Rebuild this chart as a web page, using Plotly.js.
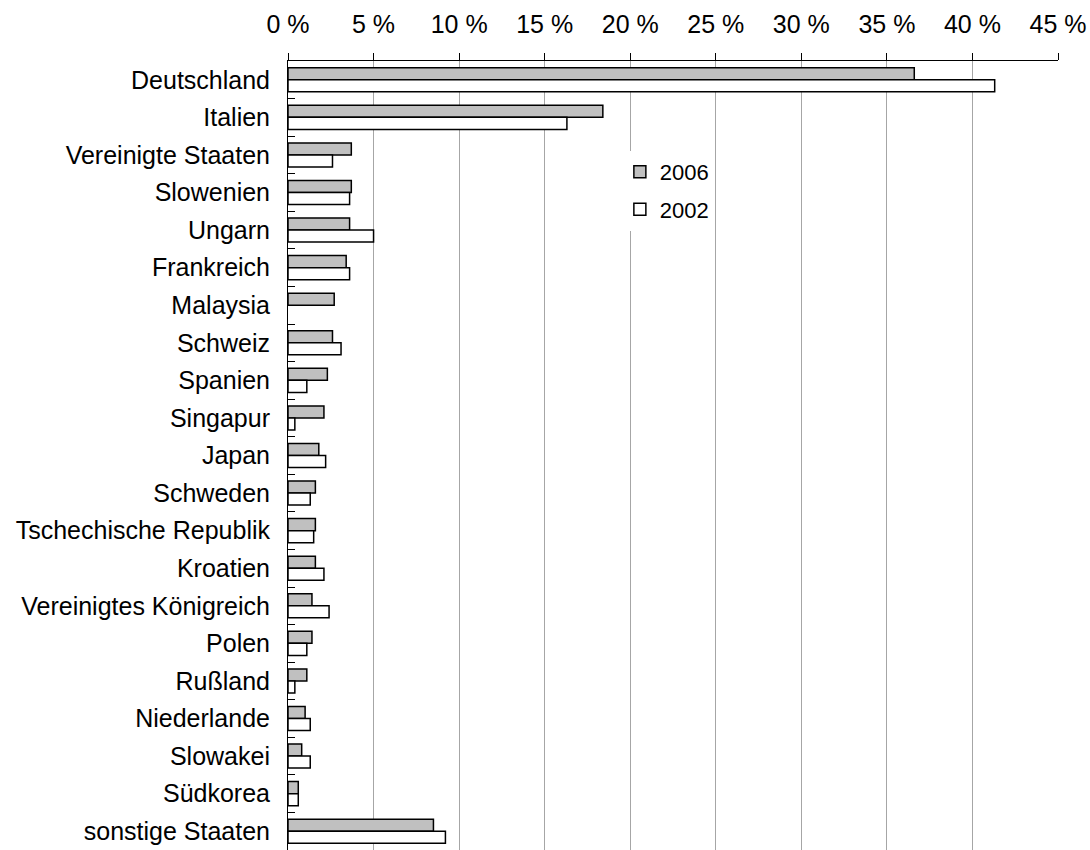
<!DOCTYPE html>
<html>
<head>
<meta charset="utf-8">
<script src="https://cdn.plot.ly/plotly-3.0.1.min.js"></script>
<style>
  html, body { margin: 0; padding: 0; background: #fff; }
  #chart { width: 1090px; height: 850px; }
</style>
</head>
<body>
<div id="chart"></div>
<script>
// Anteile der Länder in Prozent, 2006 und 2002 (null = kein Wert)
const countries = [
  "Deutschland", "Italien", "Vereinigte Staaten", "Slowenien", "Ungarn",
  "Frankreich", "Malaysia", "Schweiz", "Spanien", "Singapur", "Japan",
  "Schweden", "Tschechische Republik", "Kroatien", "Vereinigtes Königreich",
  "Polen", "Rußland", "Niederlande", "Slowakei", "Südkorea", "sonstige Staaten"
];
const share2006 = [36.6, 18.4, 3.7, 3.7, 3.6, 3.4, 2.7, 2.6, 2.3, 2.1, 1.8,
                   1.6, 1.6, 1.6, 1.4, 1.4, 1.1, 1.0, 0.8, 0.6, 8.5];
const share2002 = [41.3, 16.3, 2.6, 3.6, 5.0, 3.6, null, 3.1, 1.1, 0.4, 2.2,
                   1.3, 1.5, 2.1, 2.4, 1.1, 0.4, 1.3, 1.3, 0.6, 9.2];
const xTicks = [0, 5, 10, 15, 20, 25, 30, 35, 40, 45];

const font = "'Liberation Sans', Arial, sans-serif";

const traces = [
  {
    type: "bar", orientation: "h", name: "2006",
    y: countries, x: share2006,
    legendgroup: "a",
    marker: { color: "#c0c0c0", line: { color: "#000", width: 1.5 } },
    hoverinfo: "x+y"
  },
  {
    type: "bar", orientation: "h", name: "2002",
    y: countries, x: share2002,
    legendgroup: "b",
    marker: { color: "#ffffff", line: { color: "#000", width: 1.5 } },
    hoverinfo: "x+y"
  }
];

const layout = {
  width: 1090, height: 850,
  margin: { l: 288, r: 32, t: 61, b: 0 },
  paper_bgcolor: "#fff", plot_bgcolor: "#fff",
  font: { family: font, size: 25, color: "#000" },
  barmode: "group", bargap: 0.36, bargroupgap: 0,
  showlegend: true,
  legend: {
    x: 0.431, y: 0.886, xanchor: "left", yanchor: "top",
    bgcolor: "#fff", borderwidth: 0,
    font: { family: font, size: 22, color: "#000" },
    traceorder: "grouped", tracegroupgap: 6,
    entrywidth: 70
  },
  xaxis: {
    side: "top", range: [0, 45],
    tickvals: xTicks, ticktext: xTicks.map(v => v + " %"),
    showgrid: true, gridcolor: "#a6a6a6", gridwidth: 1,
    zeroline: false,
    showline: true, linecolor: "#000", linewidth: 1,
    ticks: "outside", ticklen: 7, tickcolor: "#000",
    ticklabelstandoff: 10,
    tickfont: { family: font, size: 25, color: "#000" },
    fixedrange: true
  },
  yaxis: {
    type: "category", autorange: "reversed",
    showgrid: false, zeroline: false,
    showline: true, linecolor: "#000", linewidth: 1,
    ticks: "inside", tickson: "boundaries", ticklen: 7, tickcolor: "#000",
    ticklabelstandoff: 12,
    tickfont: { family: font, size: 25, color: "#000" },
    fixedrange: true
  }
};

Plotly.newPlot("chart", traces, layout, { displayModeBar: false, staticPlot: true });
</script>
</body>
</html>
